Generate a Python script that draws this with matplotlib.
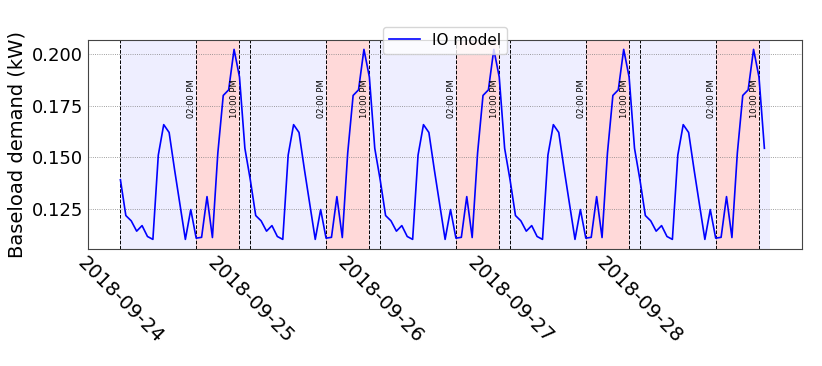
import numpy as np
import pandas as pd
import matplotlib
matplotlib.use('Agg')
import matplotlib.pyplot as plt
import matplotlib.dates as mdates

# hourly baseload profile (same shape every day)
day_profile = [0.139, 0.1216, 0.119, 0.114, 0.1167, 0.1114, 0.110, 0.151,
               0.1658, 0.162, 0.144, 0.127, 0.110, 0.1245, 0.1106, 0.111,
               0.1308, 0.1109, 0.152, 0.180, 0.1827, 0.2024, 0.189, 0.1543]
days = ['2018-09-24', '2018-09-25', '2018-09-26', '2018-09-27', '2018-09-28']
peak_start = 14
peak_end = 22
label = 'IO model'

index = pd.date_range(days[0], periods=24 * len(days), freq='h')
values = day_profile * len(days)
series = pd.Series(values, index=index)

fig = plt.figure(figsize=(8.22, 3.66), dpi=100)
ax = fig.add_axes([0.107, 0.320, 0.869, 0.571])

for d in days:
    start = pd.Timestamp(d)
    t14 = start + pd.Timedelta(hours=peak_start)
    t22 = start + pd.Timedelta(hours=peak_end)
    ax.axvspan(start, start + pd.Timedelta(hours=24), color='#eeeeff', lw=0, zorder=0)
    ax.axvspan(t14, t22, color='#ffd9d9', lw=0, zorder=0)
    for t in [start, t14, t22]:
        ax.axvline(t, color='black', linestyle='--', linewidth=0.7, zorder=1)
    ax.text(t14, 0.169, '02:00 PM', rotation=90, ha='right', va='bottom', fontsize=6)
    ax.text(t22, 0.169, '10:00 PM', rotation=90, ha='right', va='bottom', fontsize=6)

ax.plot(series.index, series.values, color='blue', linewidth=1.2, label=label, zorder=2)

ax.set_ylabel('Baseload demand (kW)', fontsize=14)
ax.set_yticks([0.125, 0.150, 0.175, 0.200])
ax.yaxis.set_major_formatter(plt.FormatStrFormatter('%.3f'))
ax.set_xticks(pd.to_datetime(days))
ax.xaxis.set_major_formatter(mdates.DateFormatter('%Y-%m-%d'))
ax.tick_params(axis='both', labelsize=13, length=0)
plt.setp(ax.get_xticklabels(), rotation=-45, ha='center', fontsize=14)
ax.grid(axis='y', linestyle=':', color='gray', linewidth=0.6)
for s in ax.spines.values():
    s.set_color('#444444')

ax.legend(loc='upper center', bbox_to_anchor=(0.5, 1.10), fontsize=11, framealpha=0.8)

fig.savefig('out.png', dpi=100)
